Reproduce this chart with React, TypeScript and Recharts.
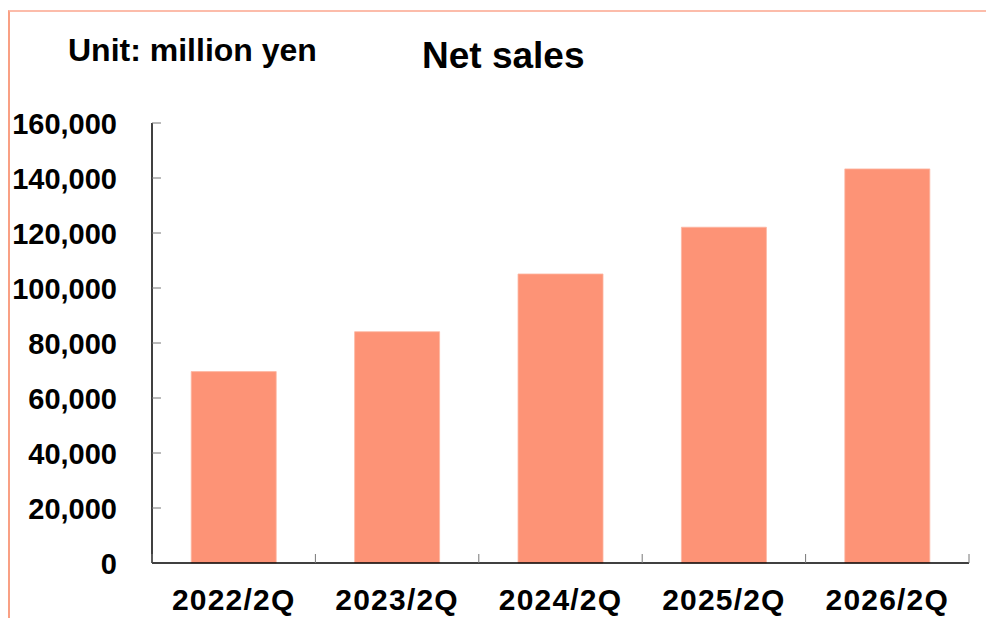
import React from 'react';
import { BarChart, Bar, XAxis, YAxis } from 'recharts';

const periods = ['2022/2Q', '2023/2Q', '2024/2Q', '2025/2Q', '2026/2Q'];
const netSales = [69600, 84100, 105100, 122100, 143300];
const yTicks = [0, 20000, 40000, 60000, 80000, 100000, 120000, 140000, 160000];

const data = periods.map((period, i) => ({ period, sales: netSales[i] }));

const FONT = '"Liberation Sans", Arial, sans-serif';
const CHART_W = 986;
const CHART_H = 618;
const MARGIN = { top: 123, right: 17, bottom: 0, left: 12 };
const Y_AXIS_W = 140;
const X_AXIS_H = 55;
const Y_TICK_MARGIN = 35;
const BAND = (CHART_W - MARGIN.left - Y_AXIS_W - MARGIN.right) / periods.length;

const YTick = (props: any) => {
  const { x, y, payload } = props;
  const axisX = x + Y_TICK_MARGIN;
  return (
    <g>
      {payload.value !== 0 && (
        <line x1={axisX} y1={y} x2={axisX + 9} y2={y} stroke="#777" strokeWidth={1} />
      )}
      <text x={x} y={y} dy="0.37em" textAnchor="end" fontFamily={FONT} fontWeight="bold" fontSize={29} fill="#000">
        {payload.value.toLocaleString('en-US')}
      </text>
    </g>
  );
};

const XTick = (props: any) => {
  const { x, y, payload, index } = props;
  const half = BAND / 2;
  return (
    <g>
      <line x1={x - half} y1={y} x2={x - half} y2={y - 9} stroke="#777" strokeWidth={1} />
      {index === periods.length - 1 && (
        <line x1={x + half} y1={y} x2={x + half} y2={y - 9} stroke="#777" strokeWidth={1} />
      )}
      <text x={x} y={y + 47} textAnchor="middle" fontFamily={FONT} fontWeight="bold" fontSize={30} letterSpacing={1.2} fill="#000">
        {payload.value}
      </text>
    </g>
  );
};

export default function App() {
  return (
    <div style={{ position: 'absolute', left: 0, top: 0, width: CHART_W, height: CHART_H, background: '#fff', overflow: 'hidden' }}>
      <div
        style={{
          position: 'absolute',
          left: 8,
          top: 10,
          width: CHART_W - 8,
          height: CHART_H,
          borderTop: '2px solid #fcbcaa',
          borderLeft: '2px solid #f9a084',
          boxSizing: 'border-box',
        }}
      />
      <div style={{ position: 'absolute', left: 68, top: 32, fontFamily: FONT, fontWeight: 'bold', fontSize: 32, color: '#000', whiteSpace: 'nowrap' }}>
        Unit: million yen
      </div>
      <div style={{ position: 'absolute', left: 422, top: 35, fontFamily: FONT, fontWeight: 'bold', fontSize: 37, color: '#000', whiteSpace: 'nowrap' }}>
        Net sales
      </div>
      <div style={{ position: 'absolute', left: 0, top: 0 }}>
        <BarChart width={CHART_W} height={CHART_H} data={data} margin={MARGIN} barCategoryGap="24%">
          <XAxis
            dataKey="period"
            height={X_AXIS_H}
            axisLine={{ stroke: '#000', strokeWidth: 1.5 }}
            tickLine={false}
            tickSize={0}
            tickMargin={0}
            interval={0}
            tick={<XTick />}
          />
          <YAxis
            width={Y_AXIS_W}
            domain={[0, 160000]}
            ticks={yTicks}
            interval={0}
            axisLine={{ stroke: '#000', strokeWidth: 1.5 }}
            tickLine={false}
            tickSize={0}
            tickMargin={Y_TICK_MARGIN}
            tick={<YTick />}
          />
          <Bar dataKey="sales" fill="#fd9376" stroke="#fdb6a2" strokeWidth={0.8} isAnimationActive={false} />
        </BarChart>
      </div>
    </div>
  );
}
